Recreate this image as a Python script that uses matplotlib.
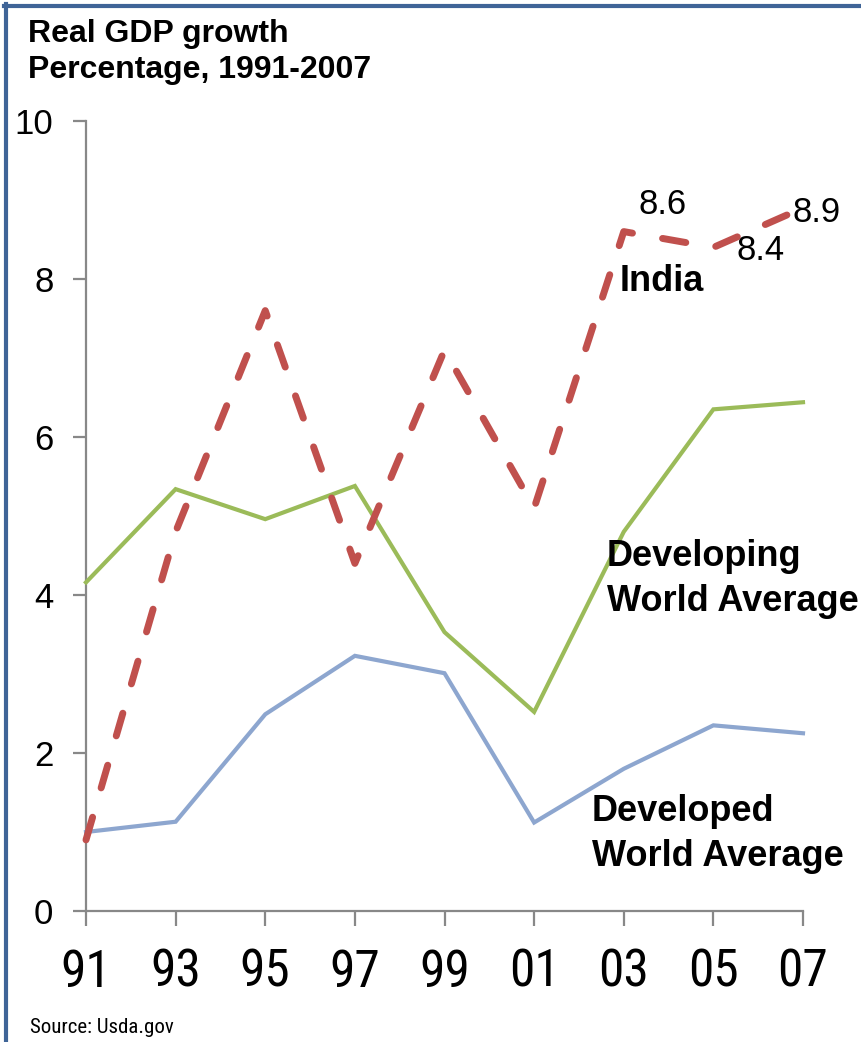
import matplotlib
matplotlib.use("Agg")
import matplotlib.pyplot as plt
from matplotlib.lines import Line2D
from matplotlib import font_manager

# Real GDP growth, percentage
years = [1991, 1993, 1995, 1997, 1999, 2001, 2003, 2005, 2007]
year_labels = ["91", "93", "95", "97", "99", "01", "03", "05", "07"]
india = [0.9, 4.8, 7.6, 4.4, 7.1, 5.1, 8.6, 8.4, 8.9]
developing = [4.16, 5.34, 4.96, 5.38, 3.53, 2.52, 4.80, 6.35, 6.44]
developed = [1.0, 1.13, 2.49, 3.23, 3.01, 1.12, 1.80, 2.35, 2.25]
y_ticks = [0, 2, 4, 6, 8, 10]
labelled_points = [(2003, 8.6), (2005, 8.4), (2007, 8.9)]

W, H = 862, 1042
fig = plt.figure(figsize=(W / 100, H / 100), dpi=100)
fig.patch.set_facecolor("white")

def fx(px):
    return px / W

def fy(py):
    return 1 - py / H

reg = ["Liberation Sans", "DejaVu Sans"]

# pick a condensed sans for the year labels when one is installed
installed = {f.name for f in font_manager.fontManager.ttflist}
condensed_names = [n for n in ("Liberation Sans Narrow", "Roboto Condensed",
                               "Open Sans Condensed", "DejaVu Sans Condensed")
                   if n in installed]
has_condensed = bool(condensed_names)
narrow = condensed_names + reg

ax = fig.add_axes([fx(86), fy(911), fx(803) - fx(86), fy(121) - fy(911)])
ax.set_xlim(1991, 2007)
ax.set_ylim(0, 10)

grey = "#888888"
for side in ("top", "right"):
    ax.spines[side].set_visible(False)
for side in ("left", "bottom"):
    ax.spines[side].set_color(grey)
    ax.spines[side].set_linewidth(1.6)

ax.set_yticks(y_ticks)
ax.set_yticklabels([str(v) for v in y_ticks], fontsize=25, family=reg)
ax.set_xticks(years)
ax.set_xticklabels(year_labels, fontsize=37 if has_condensed else 31, family=narrow)
ax.tick_params(axis="y", direction="out", length=9.4, width=1.6, color=grey, pad=14)
ax.tick_params(axis="x", direction="out", length=10.5, width=1.6, color=grey, pad=16)

ax.plot(years, developed, color="#8DA6CF", lw=3.0, solid_joinstyle="miter", clip_on=False, zorder=3)
ax.plot(years, developing, color="#9BBB59", lw=3.0, solid_joinstyle="miter", clip_on=False, zorder=3)
ax.plot(years, india, color="#C0504D", lw=5.0, linestyle=(0, (3.4, 4.4)),
        dash_capstyle="round", clip_on=False, zorder=4)

# value labels on the last India points
offsets = [(39, 18), (47, -13), (14, -14)]
for (x, y), (dx, dy) in zip(labelled_points, offsets):
    ax.annotate(f"{y:.1f}", xy=(x, y), xytext=(dx, dy), textcoords="offset pixels",
                ha="center", va="baseline", fontsize=25, family=reg, color="black")

bold = dict(fontweight="bold", family=reg, color="black", va="baseline", ha="left")
fig.text(fx(620), fy(291), "India", fontsize=26, **bold)
fig.text(fx(607), fy(566), "Developing", fontsize=26, **bold)
fig.text(fx(607), fy(611), "World Average", fontsize=26, **bold)
fig.text(fx(592), fy(821), "Developed", fontsize=26, **bold)
fig.text(fx(592), fy(866), "World Average", fontsize=26, **bold)

fig.text(fx(28), fy(42), "Real GDP growth", fontsize=23, **bold)
fig.text(fx(28), fy(78), "Percentage, 1991-2007", fontsize=23, **bold)

fig.text(fx(30), fy(1033), "Source: Usda.gov", fontsize=15, family=narrow,
         color="black", va="baseline", ha="left")

# frame border on top and left edges
border = "#3F6497"
fig.add_artist(Line2D([fx(4), fx(W)], [fy(6), fy(6)], color=border, lw=3.0,
                      transform=fig.transFigure))
fig.add_artist(Line2D([fx(6), fx(6)], [fy(4), fy(H)], color=border, lw=3.0,
                      transform=fig.transFigure))

fig.savefig("out.png", dpi=100, facecolor="white")
